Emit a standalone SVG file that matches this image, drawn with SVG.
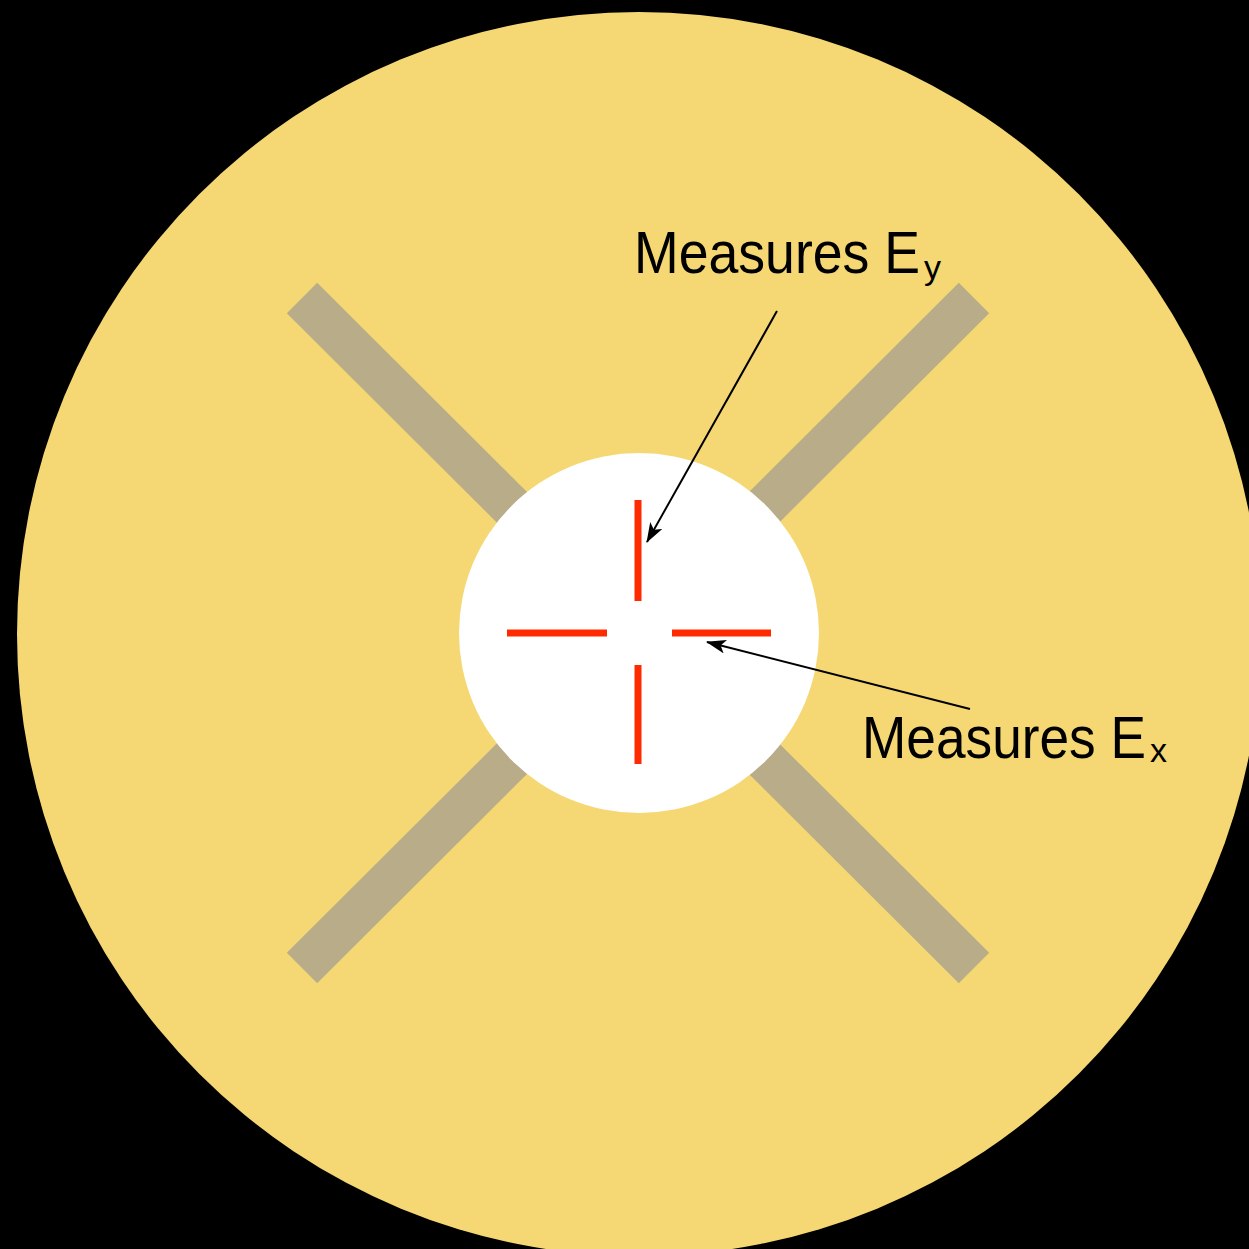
<svg xmlns="http://www.w3.org/2000/svg" width="1249" height="1249" viewBox="0 0 1249 1249">
<defs>
<style>
.lbl{font-family:"Liberation Sans",Arial,sans-serif;font-size:60px;fill:#000}
.sub{font-size:34px}
.bar{stroke:#B8AD88;stroke-width:43;stroke-linecap:butt}
.red{stroke:#FF2A00;stroke-width:7}
.conn{stroke:#000;stroke-width:2;fill:none}
</style>
<marker id="ah" viewBox="0 0 20 14" refX="19" refY="7" markerWidth="20" markerHeight="14" markerUnits="userSpaceOnUse" orient="auto">
<path d="M0,0 L20,7 L0,14 L5,7 z" fill="#000"/>
</marker>
</defs>
<rect width="1249" height="1249" fill="#000"/>
<g id="disk">
<circle cx="639" cy="634" r="622" fill="#F5D873"/>
</g>
<g id="bars">
<line class="bar" x1="302" y1="298" x2="974" y2="968"/>
<line class="bar" x1="974" y1="298" x2="302" y2="968"/>
</g>
<g id="hole">
<circle cx="639" cy="633" r="180" fill="#FFFFFF"/>
</g>
<g id="probes">
<line class="red" x1="638" y1="500" x2="638" y2="601"/>
<line class="red" x1="638" y1="665" x2="638" y2="764"/>
<line class="red" x1="507" y1="633" x2="607" y2="633"/>
<line class="red" x1="672" y1="633" x2="771" y2="633"/>
</g>
<g id="connectors">
<line class="conn" x1="777" y1="311" x2="647" y2="542" marker-end="url(#ah)"/>
<line class="conn" x1="970" y1="709" x2="707" y2="642" marker-end="url(#ah)"/>
</g>
<g id="label-ey">
<text class="lbl" x="634" y="273"><tspan textLength="286" lengthAdjust="spacingAndGlyphs">Measures E</tspan><tspan class="sub" dx="4" dy="6">y</tspan></text>
</g>
<g id="label-ex">
<text class="lbl" x="862" y="758"><tspan textLength="284" lengthAdjust="spacingAndGlyphs">Measures E</tspan><tspan class="sub" dx="4" dy="4">x</tspan></text>
</g>
</svg>
